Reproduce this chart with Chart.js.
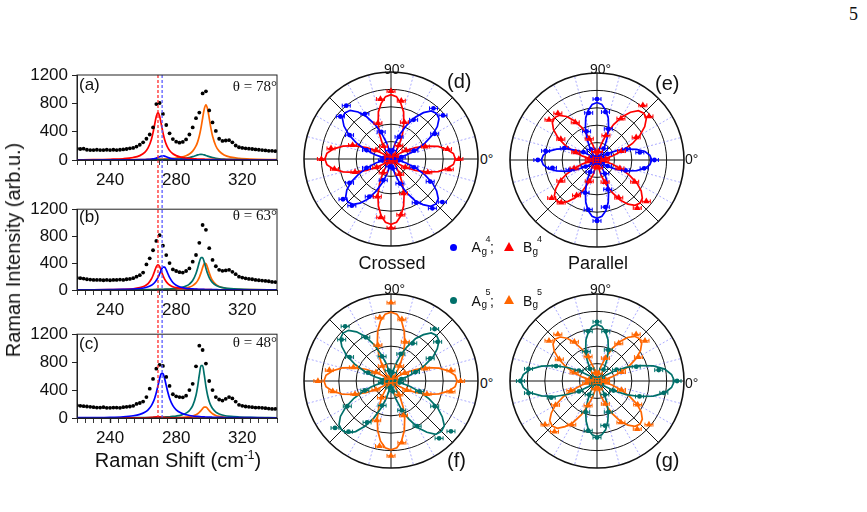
<!DOCTYPE html>
<html><head><meta charset="utf-8">
<script src="https://cdn.jsdelivr.net/npm/chart.js@4.4.1/dist/chart.umd.min.js"></script>
<style>
html,body{margin:0;padding:0;background:#fff}
body{width:867px;height:512px;position:relative;overflow:hidden;font-family:'Liberation Sans',Arial,sans-serif;color:#111}
canvas{position:absolute;display:block}
.t{position:absolute;white-space:nowrap;line-height:1}
.serif{font-family:'Liberation Serif','Times New Roman',serif}
.dot{position:absolute;width:7px;height:7px;border-radius:50%}
.tri{position:absolute;width:0;height:0;border-left:5px solid transparent;border-right:5px solid transparent}
</style></head><body>
<canvas id="ca" width="282" height="135" style="left:0;top:60px;width:282px;height:135px"></canvas>
<canvas id="cb" width="282" height="125" style="left:0;top:195px;width:282px;height:125px"></canvas>
<canvas id="cc" width="282" height="135" style="left:0;top:320px;width:282px;height:135px"></canvas>
<canvas id="pd" width="178" height="178" style="left:302px;top:70px;width:178px;height:178px"></canvas>
<canvas id="pe" width="178" height="178" style="left:508px;top:71px;width:178px;height:178px"></canvas>
<canvas id="pf" width="178" height="178" style="left:302px;top:292px;width:178px;height:178px"></canvas>
<canvas id="pg" width="178" height="178" style="left:508px;top:292px;width:178px;height:178px"></canvas>

<div class="t serif" style="left:849px;top:5px;font-size:18px">5</div>
<div class="t" style="left:13px;top:250px;font-size:20px;transform:translate(-50%,-50%) rotate(-90deg)">Raman Intensity (arb.u.)</div>
<div class="t" style="left:178px;top:450px;font-size:20px;transform:translateX(-50%)">Raman Shift (cm<span style="font-size:12px;position:relative;top:-8px">-1</span>)</div>

<div class="t" style="left:79px;top:76px;font-size:17px">(a)</div>
<div class="t" style="left:79px;top:208px;font-size:17px">(b)</div>
<div class="t" style="left:79px;top:335px;font-size:17px">(c)</div>
<div class="t serif" style="right:590px;top:79px;font-size:15px">θ = 78°</div>
<div class="t serif" style="right:590px;top:208px;font-size:15px">θ = 63°</div>
<div class="t serif" style="right:590px;top:335px;font-size:15px">θ = 48°</div>

<div class="t" style="left:384px;top:62px;font-size:14px">90°</div>
<div class="t" style="left:590px;top:62px;font-size:14px">90°</div>
<div class="t" style="left:384px;top:282px;font-size:14px">90°</div>
<div class="t" style="left:590px;top:282px;font-size:14px">90°</div>
<div class="t" style="left:480px;top:152px;font-size:14px">0°</div>
<div class="t" style="left:685px;top:152px;font-size:14px">0°</div>
<div class="t" style="left:480px;top:376px;font-size:14px">0°</div>
<div class="t" style="left:685px;top:376px;font-size:14px">0°</div>
<div class="t" style="left:447px;top:71px;font-size:20px">(d)</div>
<div class="t" style="left:655px;top:73px;font-size:20px">(e)</div>
<div class="t" style="left:447px;top:450px;font-size:20px">(f)</div>
<div class="t" style="left:655px;top:450px;font-size:20px">(g)</div>
<div class="t" style="left:392px;top:254px;font-size:18px;transform:translateX(-50%)">Crossed</div>
<div class="t" style="left:598px;top:254px;font-size:18px;transform:translateX(-50%)">Parallel</div>

<div class="dot" style="left:449.5px;top:243.5px;background:#0000ff"></div>
<div class="t" style="left:471.5px;top:240px;font-size:14px">A</div>
<div class="t" style="left:481.5px;top:246.5px;font-size:10px">g</div>
<div class="t" style="left:485.5px;top:234.5px;font-size:9px">4</div>
<div class="t" style="left:490px;top:240px;font-size:14px">;</div>
<div class="tri" style="left:504px;top:241.5px;border-bottom:9px solid #ff0000"></div>
<div class="t" style="left:523px;top:240px;font-size:14px">B</div>
<div class="t" style="left:532.5px;top:246.5px;font-size:10px">g</div>
<div class="t" style="left:537px;top:234.5px;font-size:9px">4</div>

<div class="dot" style="left:449.5px;top:297px;background:#00706a"></div>
<div class="t" style="left:471.5px;top:293.5px;font-size:14px">A</div>
<div class="t" style="left:481.5px;top:300px;font-size:10px">g</div>
<div class="t" style="left:485.5px;top:288px;font-size:9px">5</div>
<div class="t" style="left:490px;top:293.5px;font-size:14px">;</div>
<div class="tri" style="left:504px;top:295px;border-bottom:9px solid #ff6600"></div>
<div class="t" style="left:523px;top:293.5px;font-size:14px">B</div>
<div class="t" style="left:532.5px;top:300px;font-size:10px">g</div>
<div class="t" style="left:537px;top:288px;font-size:9px">5</div>

<script>
// ---------- Raman spectra (left panels) ----------
const shiftDots = [220,222,224,226,228,230,232,234,236,238,240,242,244,246,248,250,252,254,256,258,260,262,264,266,268,270,272,274,276,278,280,282,284,286,288,290,292,294,296,298,300,302,304,306,308,310,312,314,316,318,320,322,324,326,328,330,332,334,336,338,340];
const dotsA = [160,155,160,145,140,140,145,140,140,145,140,145,140,145,150,155,165,170,190,215,250,300,360,460,790,805,650,494,376,296,259,245,255,290,360,460,590,670,940,970,700,530,410,300,270,275,280,250,205,180,170,165,160,155,150,145,140,135,130,130,125];
const dotsB = [180,175,170,160,155,150,150,150,145,150,145,150,150,155,150,160,165,175,198,220,259,380,470,590,729,814,659,518,400,306,282,265,259,282,320,420,520,700,965,894,621,447,353,300,285,290,300,270,235,198,185,174,165,160,150,145,140,135,130,120,118];
const dotsC = [180,175,170,165,160,155,150,150,155,145,145,150,150,145,155,160,165,175,202,215,235,300,420,560,706,762,745,588,460,340,310,300,296,320,400,490,740,1035,974,780,530,400,300,265,250,275,300,280,235,188,175,165,160,155,150,150,145,140,135,130,130];

const fitShift = [220,230,240,248,254,258,261,263,265,266,267,268,269,270,271,272,273,274,275,276,278,280,283,286,288,290,292,293,294,295,296,297,298,299,300,301,302,304,306,309,313,318,325,341];
const fitA_red    = [3,5,10,18,35,62,108,170,290,386,505,619,670,619,505,386,290,220,170,134,88,62,39,27,22,18,15,14,13,12,11,11,10,10,8,8,8,7,6,5,4,3,2,1];
const fitA_blue   = [0,0,1,1,2,4,6,8,12,15,20,26,35,45,55,60,55,45,35,26,15,10,6,4,3,2,2,2,2,1,1,1,1,1,1,1,1,1,1,0,0,0,0,0];
const fitA_teal   = [1,1,1,1,2,2,2,3,3,3,3,4,4,4,5,5,6,6,7,7,9,11,16,25,34,47,64,72,78,80,78,72,64,55,47,40,34,25,18,12,8,5,3,1];
const fitA_orange = [2,2,3,4,5,6,7,8,9,9,10,10,11,12,13,14,15,16,18,19,23,28,40,61,85,125,198,256,338,450,588,721,780,721,588,450,338,198,125,72,40,23,13,5];
const fitB_red    = [2,3,6,10,19,35,60,95,163,216,283,347,375,347,283,216,163,123,95,75,49,35,22,15,12,10,8,8,7,7,6,6,6,6,5,5,4,4,3,3,2,2,1,1];
const fitB_blue   = [2,3,5,8,14,22,34,48,70,88,111,144,187,241,298,339,339,298,241,187,111,70,40,25,20,16,13,11,10,10,9,8,7,7,7,6,6,5,4,4,3,2,2,1];
const fitB_teal   = [1,1,2,3,3,4,5,6,6,7,7,8,8,9,10,10,12,13,14,15,19,24,36,59,88,141,245,324,414,480,480,414,324,245,185,141,110,71,49,31,19,12,7,3];
const fitB_orange = [1,1,1,2,2,3,3,4,4,4,5,5,5,6,6,7,7,8,8,9,11,14,20,30,43,65,106,140,188,254,332,391,391,332,254,188,140,82,52,30,17,10,6,2];
const fitC_red    = [0,0,0,1,1,2,3,5,8,10,14,17,18,17,14,10,8,6,5,4,2,2,1,1,1,0,0,0,0,0,0,0,0,0,0,0,0,0,0,0,0,0,0,0];
const fitC_blue   = [4,6,10,18,32,52,82,117,177,223,284,365,464,566,635,635,566,464,365,284,177,117,70,46,36,29,24,22,20,18,17,15,14,13,12,12,11,10,9,7,6,5,4,2];
const fitC_teal   = [1,2,2,3,4,5,6,7,7,8,8,9,10,11,11,12,14,15,16,18,22,28,42,70,106,176,326,454,616,749,749,616,454,326,237,176,136,85,58,36,22,14,8,3];
const fitC_orange = [0,0,1,1,1,1,1,2,2,2,2,2,2,3,3,3,3,3,4,4,5,6,9,13,19,29,46,60,80,106,135,157,157,135,106,80,60,36,23,13,8,5,3,1];
const peakMarks = [269, 271.5];
const yTicksSpectra = [0, 400, 800, 1200];
const xTicksSpectra = [240, 280, 320];

const C_RED = '#ff0000', C_BLUE = '#0000ff', C_TEAL = '#00706a', C_ORANGE = '#ff6600';
Chart.defaults.font.family = "'Liberation Sans', Arial, sans-serif";
Chart.defaults.color = '#111';

const frame = {id:'frame', afterDraw(chart){ const a = chart.chartArea, c = chart.ctx; c.save(); c.strokeStyle = '#222'; c.lineWidth = 1; c.strokeRect(a.left, a.top, a.right - a.left, a.bottom - a.top); c.restore(); }};
const vlines = {id:'vlines', afterDatasetsDraw(chart, args, opts){
  const c = chart.ctx, a = chart.chartArea, x = chart.scales.x;
  const y0 = opts.top === 'area' ? a.top : 0;
  const y1 = opts.bottom === 'area' ? a.bottom : chart.height;
  [[peakMarks[0], '#ff2a2a'], [peakMarks[1], '#5c5cff']].forEach(([v, col]) => {
    const px = x.getPixelForValue(v);
    c.save(); c.strokeStyle = col; c.lineWidth = 1.3; c.setLineDash([3, 2]);
    c.beginPath(); c.moveTo(px, y0); c.lineTo(px, y1); c.stroke(); c.restore();
  });
}};

function spectrum(id, dots, fits, padTop, xH, lineTop, lineBottom){
  const datasets = [{data: shiftDots.map((x, i) => ({x: x, y: dots[i]})), showLine:false, pointRadius:1.9, pointBackgroundColor:'#000', pointBorderWidth:0, order:0}];
  fits.forEach((f, k) => datasets.push({data: fitShift.map((x, i) => ({x: x, y: f[1][i]})), showLine:true, borderColor:f[0], borderWidth:1.7, pointRadius:0, cubicInterpolationMode:'monotone', fill:false, order:k + 1}));
  return new Chart(document.getElementById(id), {
    type:'scatter', data:{datasets},
    options:{responsive:false, animation:false, events:[],
      layout:{padding:{top:padTop, right:4, left:0, bottom:0}},
      plugins:{legend:{display:false}, tooltip:{enabled:false}, vlines:{top:lineTop, bottom:lineBottom}},
      scales:{
        x:{type:'linear', min:220, max:341,
          ticks:{stepSize:5, autoSkip:false, maxRotation:0, padding:5, color:'#111', font:{size:17},
            callback: v => xTicksSpectra.includes(v) ? String(v) : ''},
          grid:{drawOnChartArea:false, tickLength:5, color:'#222', tickWidth: c => (c.tick && xTicksSpectra.includes(c.tick.value)) ? 1.4 : 0.9},
          border:{color:'#222', width:1},
          afterFit: s => { s.height = xH; }},
        y:{min:0, max:1200,
          afterBuildTicks: s => { s.ticks = yTicksSpectra.map(v => ({value: v})); },
          ticks:{padding:4, color:'#111', font:{size:17}, callback: v => String(v)},
          grid:{drawOnChartArea:false, tickLength:5, color:'#222'},
          border:{color:'#222', width:1},
          afterFit: s => { s.width = 77; }}
      }},
    plugins:[frame, vlines]
  });
}
spectrum('ca', dotsA, [[C_BLUE, fitA_blue], [C_RED, fitA_red], [C_TEAL, fitA_teal], [C_ORANGE, fitA_orange]], 15, 35, 'area', 'canvas');
spectrum('cb', dotsB, [[C_BLUE, fitB_blue], [C_RED, fitB_red], [C_TEAL, fitB_teal], [C_ORANGE, fitB_orange]], 10, 30, 'canvas', 'canvas');
spectrum('cc', dotsC, [[C_BLUE, fitC_blue], [C_RED, fitC_red], [C_TEAL, fitC_teal], [C_ORANGE, fitC_orange]], 13, 37, 'canvas', 'area');

// ---------- Polar plots (right panels) ----------
const polarAngle = [0,5,10,15,20,25,30,35,40,45,50,55,60,65,70,75,80,85,90,95,100,105,110,115,120,125,130,135,140,145,150,155,160,165,170,175,180,185,190,195,200,205,210,215,220,225,230,235,240,245,250,255,260,265,270,275,280,285,290,295,300,305,310,315,320,325,330,335,340,345,350,355];

const dBlue = [0,2,9,19,31,43,55,65,72,74,72,65,55,43,31,19,9,2, 0,2,9,19,31,44,56,66,73,75,73,66,56,44,31,19,9,2, 0,2,8,18,29,41,53,62,68,70,68,62,53,41,29,18,8,2, 0,2,9,18,30,43,55,64,71,73,71,64,55,43,30,18,9,2];
const dRed  = [74,72,65,56,43,31,19,9,2,0,2,9,19,31,43,56,65,72, 74,72,65,56,43,31,19,9,2,0,2,9,19,31,45,57,67,74, 76,74,67,57,45,31,19,9,2,0,2,9,19,31,44,56,66,73, 75,73,66,56,44,31,19,9,2,0,2,9,19,31,43,56,65,72];
const dBluePts = [3,12,28,58,78,76,52,27,10, 2,10,33,60,80,76,55,30,8, 3,10,30,55,72,70,50,26,9, 2,11,30,58,74,77,52,28,9];
const dRedPts  = [78,66,42,20,5,4,18,45,68, 78,70,44,17,3,4,20,47,70, 80,66,44,19,3,5,18,46,68, 79,65,42,20,4,3,19,45,68];

const eBlue = [63,61,56,47,37,26,16,7,2,0,2,8,17,27,39,50,58,64, 66,64,58,50,39,27,17,8,2,0,2,8,16,26,38,48,57,62, 64,62,57,48,38,26,16,8,2,0,2,8,17,28,39,50,59,65, 67,65,59,50,39,28,17,8,2,0,2,7,16,26,37,47,56,61];
const eRed  = [0,2,9,19,31,45,57,67,74,76,74,67,57,45,31,19,9,2, 0,2,8,17,28,41,52,61,67,69,67,61,52,41,28,17,8,2, 0,2,8,17,27,39,50,58,64,66,64,58,50,39,27,17,8,2, 0,2,8,18,29,41,53,62,68,70,68,62,53,41,29,18,8,2];
const eBluePts = [66,50,36,14,4,5,15,38,56, 70,55,35,14,3,4,18,40,60, 68,52,33,15,4,3,16,40,58, 70,55,36,18,4,5,14,35,55];
const eRedPts  = [3,10,30,52,78,82,55,30,10, 3,10,26,50,70,72,48,26,9, 3,9,28,48,68,64,47,26,8, 3,9,27,50,72,74,50,28,9];

const fTeal   = [0,2,9,19,31,43,56,65,72,74,72,65,56,43,31,19,9,2, 0,2,9,20,32,46,59,69,76,78,76,69,59,46,32,20,9,2, 0,2,9,20,33,47,60,71,78,80,78,71,60,47,33,20,9,2, 0,2,10,21,34,48,62,72,80,82,80,72,62,48,34,21,10,2];
const fOrange = [76,74,67,57,45,31,19,9,2,0,2,9,20,33,46,59,70,77, 79,77,70,59,46,33,20,9,2,0,2,9,19,32,45,58,68,75, 77,75,68,58,45,32,19,9,2,0,2,9,20,33,46,59,70,77, 79,77,70,59,46,33,20,9,2,0,2,9,19,31,45,57,67,74];
const fTealPts   = [3,12,30,52,70,78,50,33,10, 2,12,30,58,82,74,55,28,8, 3,10,32,58,84,76,55,30,8, 3,12,36,60,86,90,58,35,10];
const fOrangePts = [80,70,42,18,4,4,20,48,72, 90,74,44,20,4,3,20,46,72, 84,68,44,20,4,4,22,48,76, 86,72,42,18,3,3,21,44,70];

const gTeal   = [89,86,79,67,52,37,22,10,3,0,2,8,16,27,38,49,57,63, 65,63,57,49,38,27,16,8,2,0,3,10,22,36,52,66,78,85, 88,85,78,66,52,36,22,10,3,0,2,7,16,26,38,48,57,62, 64,62,57,48,38,26,16,7,2,0,3,10,22,37,52,67,79,86];
const gOrange = [0,2,8,17,28,41,52,61,67,69,67,61,52,41,28,17,8,2, 0,2,8,17,28,40,51,60,66,68,66,60,51,40,28,17,8,2, 0,2,9,18,30,43,55,64,71,73,71,64,55,43,30,18,9,2, 0,2,8,18,29,41,53,62,68,70,68,62,53,41,29,18,8,2];
const gTealPts   = [92,72,48,26,5,3,15,38,58, 68,58,36,16,4,4,24,50,80, 88,80,56,24,5,3,18,38,58, 65,52,38,18,4,4,22,52,78];
const gOrangePts = [3,10,30,55,72,70,50,28,9, 3,10,30,52,70,72,50,28,9, 3,12,32,55,78,76,58,30,9, 3,9,28,55,72,78,54,30,10];

// radar index i sits at math angle -5i (startAngle 90 puts index 0 at 0 deg, clockwise)
const radarOrder = polarAngle.map((_, i) => polarAngle[(polarAngle.length - i) % polarAngle.length]);

const errBars = {id:'errBars', afterDatasetsDraw(chart){
  const c = chart.ctx;
  chart.data.datasets.forEach((ds, di) => {
    if (!ds.errBar) return;
    const meta = chart.getDatasetMeta(di);
    c.save(); c.strokeStyle = ds.errBar; c.lineWidth = 1;
    meta.data.forEach(p => {
      if (p.skip) return;
      c.beginPath();
      c.moveTo(p.x - 4, p.y); c.lineTo(p.x + 4, p.y);
      c.moveTo(p.x - 4, p.y - 2); c.lineTo(p.x - 4, p.y + 2);
      c.moveTo(p.x + 4, p.y - 2); c.lineTo(p.x + 4, p.y + 2);
      c.stroke();
    });
    c.restore();
  });
}};

function polar(id, curves, pts){
  const datasets = [];
  pts.forEach(([col, vals, style, rad]) => datasets.push({
    data: radarOrder.map(p => p % 10 === 0 ? vals[p / 10] : null),
    showLine:false, borderColor:'rgba(0,0,0,0)', borderWidth:0, fill:false,
    pointStyle:style, pointRadius:rad, pointBackgroundColor:col, pointBorderColor:col, pointBorderWidth:0, errBar:col}));
  curves.forEach(([col, vals]) => datasets.push({
    data: radarOrder.map(p => vals[p / 5]),
    borderColor:col, borderWidth:1.7, pointRadius:0, fill:false, tension:0}));
  const phiOf = c => radarOrder[c.index];
  return new Chart(document.getElementById(id), {
    type:'radar', data:{labels: radarOrder.map(p => p + '°'), datasets},
    options:{responsive:false, animation:false, events:[], layout:{padding:2},
      plugins:{legend:{display:false}, tooltip:{enabled:false}},
      scales:{r:{min:0, max:100, startAngle:90,
        ticks:{display:false, stepSize:20},
        pointLabels:{display:false},
        grid:{circular:true, color:'#111', lineWidth: c => c.index === 5 ? 1.6 : 1},
        angleLines:{display:true,
          color: c => phiOf(c) % 45 === 0 ? '#111' : 'rgba(110,110,255,0.65)',
          lineWidth: c => phiOf(c) % 45 === 0 ? 1 : (phiOf(c) % 15 === 0 ? 0.9 : 0),
          borderDash: c => phiOf(c) % 45 === 0 ? [] : [2, 2]}
      }}},
    plugins:[errBars]
  });
}
polar('pd', [[C_BLUE, dBlue], [C_RED, dRed]], [[C_BLUE, dBluePts, 'circle', 2.4], [C_RED, dRedPts, 'triangle', 3.8]]);
polar('pe', [[C_BLUE, eBlue], [C_RED, eRed]], [[C_BLUE, eBluePts, 'circle', 2.4], [C_RED, eRedPts, 'triangle', 3.8]]);
polar('pf', [[C_TEAL, fTeal], [C_ORANGE, fOrange]], [[C_TEAL, fTealPts, 'circle', 2.4], [C_ORANGE, fOrangePts, 'triangle', 3.8]]);
polar('pg', [[C_TEAL, gTeal], [C_ORANGE, gOrange]], [[C_TEAL, gTealPts, 'circle', 2.4], [C_ORANGE, gOrangePts, 'triangle', 3.8]]);
</script>
</body></html>
